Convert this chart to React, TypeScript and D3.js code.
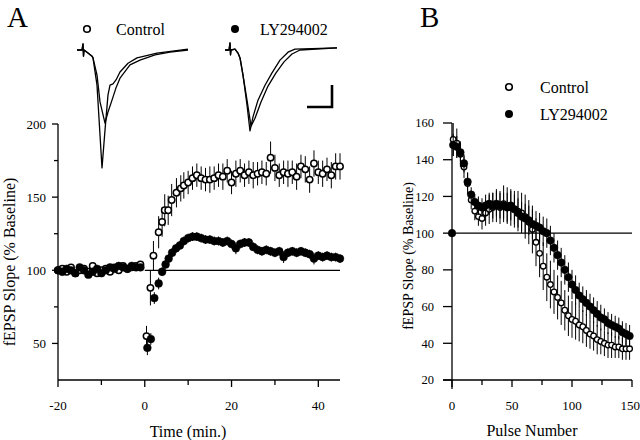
import React from "react";
import * as d3 from "d3";

// ---------- Panel A data (time in min, % baseline) ----------
const ctrlTimeA = [-20,-19,-18,-17,-16,-15,-14,-13,-12,-11,-10,-9,-8,-7,-6,-5,-4,-3,-2,-1,
  0.4,1.3,2,3.2,4,4.6,5.4,6.2,7.3,8.3,
  9,10,11,12,13,14,15,16,17,18,19,20,21,22,23,24,25,26,27,28,29,30,31,32,33,34,35,36,37,38,39,40,41,42,43,44,45];
const ctrlMeanA = [100,101,99,102,98,100,101,99,103,98,100,101,99,102,100,103,101,102,103,104,
  55,88,110,126,133,141,141,148,153,156,
  158,160,163,165,163,162,162,163,165,164,168,160,166,168,165,167,165,166,167,166,177,170,165,167,166,167,164,171,169,162,173,167,166,169,165,171,171];
const ctrlSemA = [2,2,2,2,2,2,2,2,2,2,2,2,2,2,2,2,2,2,2,2,
  7,12,10,11,10,11,10,11,10,9,
  9,8,8,8,8,8,9,8,8,9,8,8,9,8,8,8,9,8,8,8,11,9,8,8,9,8,9,8,9,9,9,8,9,8,9,9,9];

const lyTimeA = [-20,-19,-18,-17,-16,-15,-14,-13,-12,-11,-10,-9,-8,-7,-6,-5,-4,-3,-2,-1,
  0.6,1.4,2.2,3.2,4,4.8,5.5,6.3,7.2,8.1,
  9,10,11,12,13,14,15,16,17,18,19,20,21,22,23,24,25,26,27,28,29,30,31,32,33,34,35,36,37,38,39,40,41,42,43,44,45];
const lyMeanA = [100,99,101,100,98,102,100,97,99,101,98,100,102,101,103,102,101,103,102,102,
  47,53,81,91,99,104,108,112,115,117,
  120,122,123,123,122,121,121,120,120,119,120,118,115,118,119,119,116,114,113,114,113,112,113,109,112,113,112,113,112,111,108,110,109,110,109,109,108];
const lySemA = [2,2,2,2,2,2,2,2,2,2,2,2,2,2,2,2,2,2,2,2,
  5,4,4,4,3,3,3,3,3,3,
  3,3,3,3,3,3,3,3,3,3,3,3,4,3,3,3,3,3,3,3,3,3,3,4,3,3,3,3,3,3,4,3,3,3,3,3,3];

const xTicksA = [-20, 0, 20, 40];
const xMinorA = [-10, 10, 30];
const yTicksA = [50, 100, 150, 200];
const yMinorA = [75, 125, 175];

// ---------- Panel A example traces (ms, mV) ----------
const trCtrl1T = [0,1,1.2,1.3,1.4,2.2,3,3.2,4,5,5.6,6.2,6.6,7.2,7.8,8.6,10.2,12,16,22.2];
const trCtrl1V = [0,0,0.14,-0.14,0,-0.07,-0.14,-0.18,-0.8,-2.68,-1.82,-1.02,-0.8,-0.77,-0.68,-0.5,-0.3,-0.18,-0.07,0.02];
const trCtrl2T = [0,1,1.2,1.3,1.4,2.2,3,3.2,4,4.6,5.6,6.2,7,7.8,8.6,10.6,12.6,15.6,18.6,22.2];
const trCtrl2V = [0,0,0.14,-0.14,0,-0.07,-0.14,-0.18,-0.57,-1.18,-1.66,-1.41,-1.14,-0.86,-0.64,-0.34,-0.23,-0.11,-0.05,0];
const trLy1T = [0,0.8,1,1.1,1.2,2,2.6,3,3.6,4.4,5,5.6,6.6,8,9.4,11,12.6,14,22.4];
const trLy1V = [0,0,0.16,-0.11,0,0.02,-0.07,-0.18,-0.57,-1.25,-1.84,-1.52,-1.14,-0.8,-0.52,-0.23,-0.05,0.02,0.05];
const trLy2T = [0,0.8,1,1.1,1.2,2,2.6,3,3.6,4.4,5.2,6,7.2,8.6,10.2,11.8,13.4,15,22.4];
const trLy2V = [0,0,0.16,-0.11,0,0.02,-0.07,-0.18,-0.57,-1.14,-1.73,-1.55,-1.18,-0.82,-0.52,-0.27,-0.09,0,0.05];
const scaleBarMs = 5;
const scaleBarMv = 0.5;

// ---------- Panel B data (pulse number, % baseline) ----------
const pulseB = [1,4,7,10,13,16,19,22,25,28,31,34,37,40,43,46,49,52,55,58,61,64,67,70,73,76,79,82,85,88,91,94,97,100,103,106,109,112,115,118,121,124,127,130,133,136,139,142,145,148];
const ctrlMeanB = [151,149,143,136,127,118,112,109,108,111,113,114,115,114,116,115,114,113,112,111,109,106,102,95,89,82,76,72,68,65,62,58,55,53,52,50,49,47,45,44,42,41,40,39,39,38,38,37,37,37];
const ctrlSemB = [9,8,7,6,6,5,5,5,6,7,8,8,9,9,10,10,10,10,11,11,12,12,13,13,13,13,13,13,12,12,12,11,11,10,10,9,9,9,8,8,8,7,7,7,7,6,6,6,6,6];
const lyPulseB = [0,1,4,7,10,13,16,19,22,25,28,31,34,37,40,43,46,49,52,55,58,61,64,67,70,73,76,79,82,85,88,91,94,97,100,103,106,109,112,115,118,121,124,127,130,133,136,139,142,145,148];
const lyMeanB = [100,148,147,144,138,128,121,117,115,114,115,116,115,116,115,115,114,115,113,111,109,108,107,105,104,103,101,100,96,92,88,84,80,76,72,69,66,64,62,60,58,56,54,53,51,50,49,48,46,45,44];
const lySemB = [0,6,6,5,5,5,4,4,5,5,6,6,7,7,7,7,8,8,8,8,8,8,8,8,8,8,8,8,8,8,8,8,8,8,8,8,7,7,7,7,7,7,7,6,6,6,6,6,6,6,6];

const xTicksB = [0, 50, 100, 150];
const xMinorB = [25, 75, 125];
const yTicksB = [20, 40, 60, 80, 100, 120, 140, 160];

const FONT = "Liberation Serif, Times New Roman, serif";

function ErrorSeries({ xs, ys, sems, x, y, filled, r, sw }: any) {
  return (
    <g>
      {xs.map((t: number, i: number) =>
        sems[i] > 0 ? (
          <line key={"e" + i} x1={x(t)} x2={x(t)} y1={y(ys[i] - sems[i])} y2={y(ys[i] + sems[i])} stroke="#000" strokeWidth={1} />
        ) : null
      )}
      {xs.map((t: number, i: number) => (
        <circle key={"c" + i} cx={x(t)} cy={y(ys[i])} r={r} fill={filled ? "#000" : "#fff"} stroke="#000" strokeWidth={sw} />
      ))}
    </g>
  );
}

export default function App() {
  // Panel A scales
  const xA = d3.scaleLinear().domain([-20, 45]).range([58, 340]);
  const yA = d3.scaleLinear().domain([25, 200]).range([380, 124]);
  // Panel B scales
  const xB = d3.scaleLinear().domain([0, 150]).range([452, 632]);
  const yB = d3.scaleLinear().domain([20, 160]).range([380, 123]);

  // trace scales
  const tyS = d3.scaleLinear().domain([0, -1]).range([50, 94]);
  const txCtrl = d3.scaleLinear().domain([0, 1]).range([77, 82]);
  const txLy = d3.scaleLinear().domain([0, 1]).range([225, 230]);
  const mkLine = (xs: number[], vs: number[], sx: any) =>
    d3.line<number>().x((_, i) => sx(xs[i])).y((v) => tyS(v))(vs) || "";

  const barX = d3.scaleLinear().domain([0, 1]).range([307, 312]);
  const barCornerX = barX(scaleBarMs);
  const barCornerY = 107;

  const ax = { stroke: "#000", strokeWidth: 1.3 };

  return (
    <svg width={640} height={440} style={{ position: "absolute", left: 0, top: 0, background: "#fff" }} fontFamily={FONT}>
      <rect x={0} y={0} width={640} height={440} fill="#fff" />
      {/* Panel letters */}
      <text x={7} y={27} fontSize={29}>A</text>
      <text x={420} y={27} fontSize={29}>B</text>

      {/* Panel A legend */}
      <circle cx={87} cy={29} r={3.3} fill="#fff" stroke="#000" strokeWidth={1.6} />
      <text x={116} y={35} fontSize={16}>Control</text>
      <circle cx={235} cy={29} r={4} fill="#000" />
      <text x={260} y={35} fontSize={16}>LY294002</text>

      {/* Traces */}
      <g fill="none" stroke="#000" strokeWidth={1.3} strokeLinejoin="round">
        <path d={mkLine(trCtrl1T, trCtrl1V, txCtrl)} />
        <path d={mkLine(trCtrl2T, trCtrl2V, txCtrl)} />
        <path d={mkLine(trLy1T, trLy1V, txLy)} />
        <path d={mkLine(trLy2T, trLy2V, txLy)} />
      </g>
      {/* scale bar */}
      <path
        d={`M${barX(0)},${barCornerY} L${barCornerX},${barCornerY} L${barCornerX},${barCornerY - (tyS(-scaleBarMv) - tyS(0))}`}
        fill="none" stroke="#000" strokeWidth={2.6} />

      {/* Panel A axes */}
      <line x1={xA(-20)} x2={xA(-20)} y1={yA(25)} y2={yA(200)} {...ax} />
      <line x1={xA(-20)} x2={xA(45)} y1={yA(25)} y2={yA(25)} {...ax} />
      {yTicksA.map((v) => (
        <g key={"ya" + v}>
          <line x1={xA(-20) - 6} x2={xA(-20)} y1={yA(v)} y2={yA(v)} {...ax} />
          <text x={46} y={yA(v)} dy="0.35em" textAnchor="end" fontSize={13}>{v}</text>
        </g>
      ))}
      {yMinorA.map((v) => (
        <line key={"yam" + v} x1={xA(-20) - 4} x2={xA(-20)} y1={yA(v)} y2={yA(v)} {...ax} />
      ))}
      {xTicksA.map((t) => (
        <g key={"xa" + t}>
          <line x1={xA(t)} x2={xA(t)} y1={yA(25)} y2={yA(25) + 7} {...ax} />
          <text x={xA(t)} y={410} textAnchor="middle" fontSize={13}>{t}</text>
        </g>
      ))}
      {xMinorA.map((t) => (
        <line key={"xam" + t} x1={xA(t)} x2={xA(t)} y1={yA(25)} y2={yA(25) + 5} {...ax} />
      ))}
      <line x1={xA(0)} x2={xA(45)} y1={yA(100)} y2={yA(100)} {...ax} />
      <text x={188} y={437} textAnchor="middle" fontSize={16}>Time  (min.)</text>
      <text transform={`translate(15,262) rotate(-90)`} textAnchor="middle" fontSize={16}>fEPSP Slope  (% Baseline)</text>

      <ErrorSeries xs={ctrlTimeA} ys={ctrlMeanA} sems={ctrlSemA} x={xA} y={yA} filled={false} r={3.2} sw={1.5} />
      <ErrorSeries xs={lyTimeA} ys={lyMeanA} sems={lySemA} x={xA} y={yA} filled={true} r={3.9} sw={0.5} />

      {/* Panel B legend */}
      <circle cx={509} cy={87} r={3.3} fill="#fff" stroke="#000" strokeWidth={1.6} />
      <text x={540} y={93} fontSize={16}>Control</text>
      <circle cx={509} cy={114} r={4} fill="#000" />
      <text x={540} y={120} fontSize={16}>LY294002</text>

      {/* Panel B axes */}
      <line x1={xB(0)} x2={xB(0)} y1={yB(20) + 9} y2={yB(160)} {...ax} />
      <line x1={xB(0) - 9} x2={xB(150)} y1={yB(20)} y2={yB(20)} {...ax} />
      {yTicksB.map((v) => (
        <g key={"yb" + v}>
          <line x1={xB(0) - 9} x2={xB(0)} y1={yB(v)} y2={yB(v)} {...ax} />
          <text x={434} y={yB(v)} dy="0.35em" textAnchor="end" fontSize={12.5}>{v}</text>
        </g>
      ))}
      {xTicksB.map((p) => (
        <g key={"xb" + p}>
          <line x1={xB(p)} x2={xB(p)} y1={yB(20)} y2={yB(20) + 7} {...ax} />
          <text x={p === 150 ? 640 : xB(p)} y={410} textAnchor={p === 150 ? "end" : "middle"} fontSize={13}>{p}</text>
        </g>
      ))}
      {xMinorB.map((p) => (
        <line key={"xbm" + p} x1={xB(p)} x2={xB(p)} y1={yB(20)} y2={yB(20) + 5} {...ax} />
      ))}
      <line x1={xB(0)} x2={xB(150)} y1={yB(100)} y2={yB(100)} {...ax} />
      <text x={532} y={436} textAnchor="middle" fontSize={16}>Pulse Number</text>
      <text transform={`translate(413,256) rotate(-90)`} textAnchor="middle" fontSize={14}>fEPSP Slope (% Baseline)</text>

      <ErrorSeries xs={pulseB} ys={ctrlMeanB} sems={ctrlSemB} x={xB} y={yB} filled={false} r={2.8} sw={1.3} />
      <ErrorSeries xs={lyPulseB} ys={lyMeanB} sems={lySemB} x={xB} y={yB} filled={true} r={3.8} sw={0.5} />
    </svg>
  );
}
